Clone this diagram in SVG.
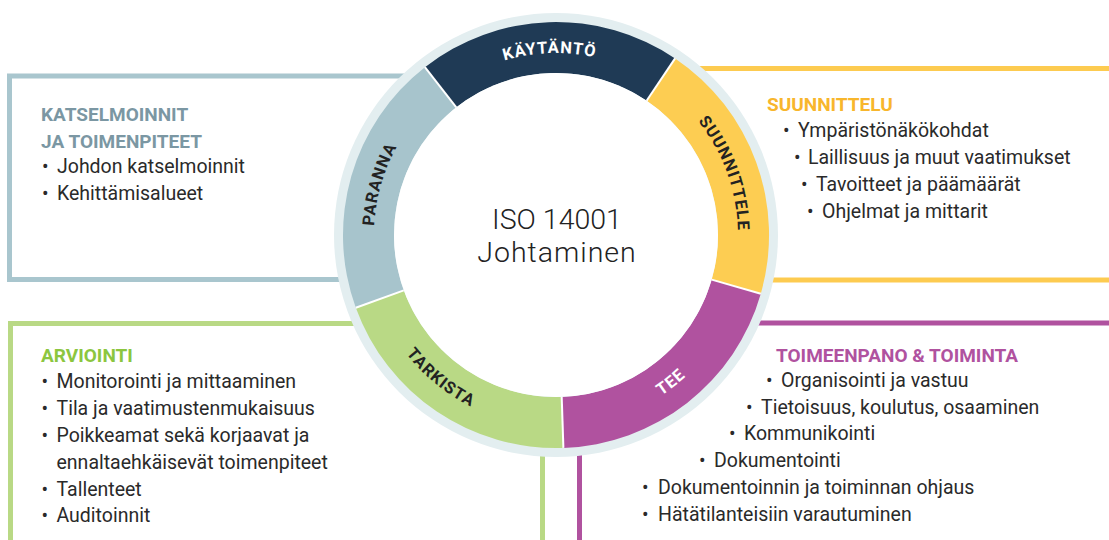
<svg xmlns="http://www.w3.org/2000/svg" width="1109" height="540" viewBox="0 0 1109 540">
  <style>
    .frame { fill: none; stroke-width: 5; }
    .head { font-family: Roboto, "Liberation Sans", sans-serif; font-weight: 700; font-size: 19px; }
    .item { font-family: Roboto, "Liberation Sans", sans-serif; font-size: 19.5px; fill: #2a2a2a; }
    .ring { font-family: Roboto, "Liberation Sans", sans-serif; font-weight: 700; font-size: 16.5px; letter-spacing: 1px; }
    .center { font-family: Roboto, "Liberation Sans", sans-serif; font-weight: 300; font-size: 28.5px; fill: #222; }
    .sep { stroke: #ffffff; stroke-width: 2; }
  </style>
  <defs>
    <path id="p-kaytanto" d="M439.0,95.6 A182,182 0 0 1 663.0,87.8"/>
    <path id="p-suunnittele" d="M647,77.4 A182,182 0 0 1 727.0,297.2"/>
    <path id="p-paranna" d="M389.7,309.0 A182,182 0 0 1 454.2,84.1"/>
    <path id="p-tarkista" d="M368.5,271.4 A192,192 0 0 0 559.3,427.0"/>
    <path id="p-tee" d="M549.3,426.9 A192,192 0 0 0 743.8,275.0"/>
  </defs>
  <rect width="1109" height="540" fill="#ffffff"/>

  <g id="box-katselmoinnit">
    <rect class="frame" x="9.5" y="76" width="500" height="203.5" stroke="#a9c6ce"/>
    <text class="head" fill="#7b97a3" x="41" y="121">KATSELMOINNIT</text>
    <text class="head" fill="#7b97a3" x="41" y="148">JA TOIMENPITEET</text>
    <text class="item" x="42" y="173">•<tspan x="57">Johdon katselmoinnit</tspan></text>
    <text class="item" x="42" y="200">•<tspan x="57">Kehittämisalueet</tspan></text>
  </g>

  <g id="box-suunnittelu">
    <rect class="frame" x="620" y="68.5" width="600" height="211.5" stroke="#fdcb50"/>
    <text class="head" fill="#f8b62c" x="767" y="111">SUUNNITTELU</text>
    <text class="item" x="783" y="137">•<tspan x="798">Ympäristönäkökohdat</tspan></text>
    <text class="item" x="794" y="164">•<tspan x="808">Laillisuus ja muut vaatimukset</tspan></text>
    <text class="item" x="801" y="191">•<tspan x="816">Tavoitteet ja päämäärät</tspan></text>
    <text class="item" x="807" y="218">•<tspan x="822">Ohjelmat ja mittarit</tspan></text>
  </g>

  <g id="box-arviointi">
    <rect class="frame" x="10.5" y="323.5" width="532" height="300" stroke="#b9d985"/>
    <text class="head" fill="#8cc63f" x="41" y="362">ARVIOINTI</text>
    <text class="item" x="41.5" y="388">•<tspan x="56.5">Monitorointi ja mittaaminen</tspan></text>
    <text class="item" x="41.5" y="415">•<tspan x="56.5">Tila ja vaatimustenmukaisuus</tspan></text>
    <text class="item" x="41.5" y="442">•<tspan x="56.5">Poikkeamat sekä korjaavat ja</tspan></text>
    <text class="item" x="56.5" y="469">ennaltaehkäisevät toimenpiteet</text>
    <text class="item" x="41.5" y="496">•<tspan x="56.5">Tallenteet</tspan></text>
    <text class="item" x="41.5" y="522">•<tspan x="56.5">Auditoinnit</tspan></text>
  </g>

  <g id="box-toimeenpano">
    <rect class="frame" x="579.5" y="323" width="600" height="300" stroke="#b0529f"/>
    <text class="head" fill="#b0529f" x="776" y="362">TOIMEENPANO &amp; TOIMINTA</text>
    <text class="item" x="766" y="387">•<tspan x="781">Organisointi ja vastuu</tspan></text>
    <text class="item" x="746" y="414">•<tspan x="761">Tietoisuus, koulutus, osaaminen</tspan></text>
    <text class="item" x="729" y="440">•<tspan x="744">Kommunikointi</tspan></text>
    <text class="item" x="699" y="467">•<tspan x="714">Dokumentointi</tspan></text>
    <text class="item" x="642" y="494">•<tspan x="658">Dokumentoinnin ja toiminnan ohjaus</tspan></text>
    <text class="item" x="642" y="521">•<tspan x="658">Hätätilanteisiin varautuminen</tspan></text>
  </g>

  <g id="cycle">
    <circle cx="556" cy="235" r="222" fill="#e3eef0"/>
    <g id="seg-kaytanto">
      <path d="M424.9,67.2 A213,213 0 0 1 675.1,58.4 L646.6,100.7 A162,162 0 0 0 456.3,107.3 Z" fill="#1f3a55"/>
      <text class="ring" fill="#ffffff"><textPath href="#p-kaytanto" startOffset="50%" text-anchor="middle">KÄYTÄNTÖ</textPath></text>
    </g>
    <g id="seg-suunnittele">
      <path d="M675.1,58.4 A213,213 0 0 1 760.8,293.7 L711.7,279.6 A162,162 0 0 0 646.6,100.7 Z" fill="#fdcd52"/>
      <text class="ring" fill="#222222"><textPath href="#p-suunnittele" startOffset="50%" text-anchor="middle">SUUNNITTELE</textPath></text>
    </g>
    <g id="seg-tee">
      <path d="M760.8,293.7 A213,213 0 0 1 563.4,447.9 L561.7,396.9 A162,162 0 0 0 711.7,279.6 Z" fill="#b0529f"/>
      <text class="ring" fill="#ffffff"><textPath href="#p-tee" startOffset="50%" text-anchor="middle">TEE</textPath></text>
    </g>
    <g id="seg-tarkista">
      <path d="M563.4,447.9 A213,213 0 0 1 355.8,307.8 L403.8,290.4 A162,162 0 0 0 561.7,396.9 Z" fill="#b9d985"/>
      <text class="ring" fill="#222222"><textPath href="#p-tarkista" startOffset="50%" text-anchor="middle">TARKISTA</textPath></text>
    </g>
    <g id="seg-paranna">
      <path d="M355.8,307.8 A213,213 0 0 1 424.9,67.2 L456.3,107.3 A162,162 0 0 0 403.8,290.4 Z" fill="#a7c4cc"/>
      <text class="ring" fill="#222222"><textPath href="#p-paranna" startOffset="50%" text-anchor="middle">PARANNA</textPath></text>
    </g>
    <g id="separators">
      <line class="sep" x1="424.9" y1="67.2" x2="456.3" y2="107.3"/>
      <line class="sep" x1="675.1" y1="58.4" x2="646.6" y2="100.7"/>
      <line class="sep" x1="760.8" y1="293.7" x2="711.7" y2="279.6"/>
      <line class="sep" x1="563.4" y1="447.9" x2="561.7" y2="396.9"/>
      <line class="sep" x1="355.8" y1="307.8" x2="403.8" y2="290.4"/>
    </g>
    <circle cx="556" cy="235" r="162" fill="#ffffff"/>
  </g>

  <g id="center-title">
    <text class="center" x="557" y="228.5" text-anchor="middle">ISO 14001</text>
    <text class="center" x="557" y="261.5" text-anchor="middle" letter-spacing="1">Johtaminen</text>
  </g>
  <g id="connectors"/>
</svg>
